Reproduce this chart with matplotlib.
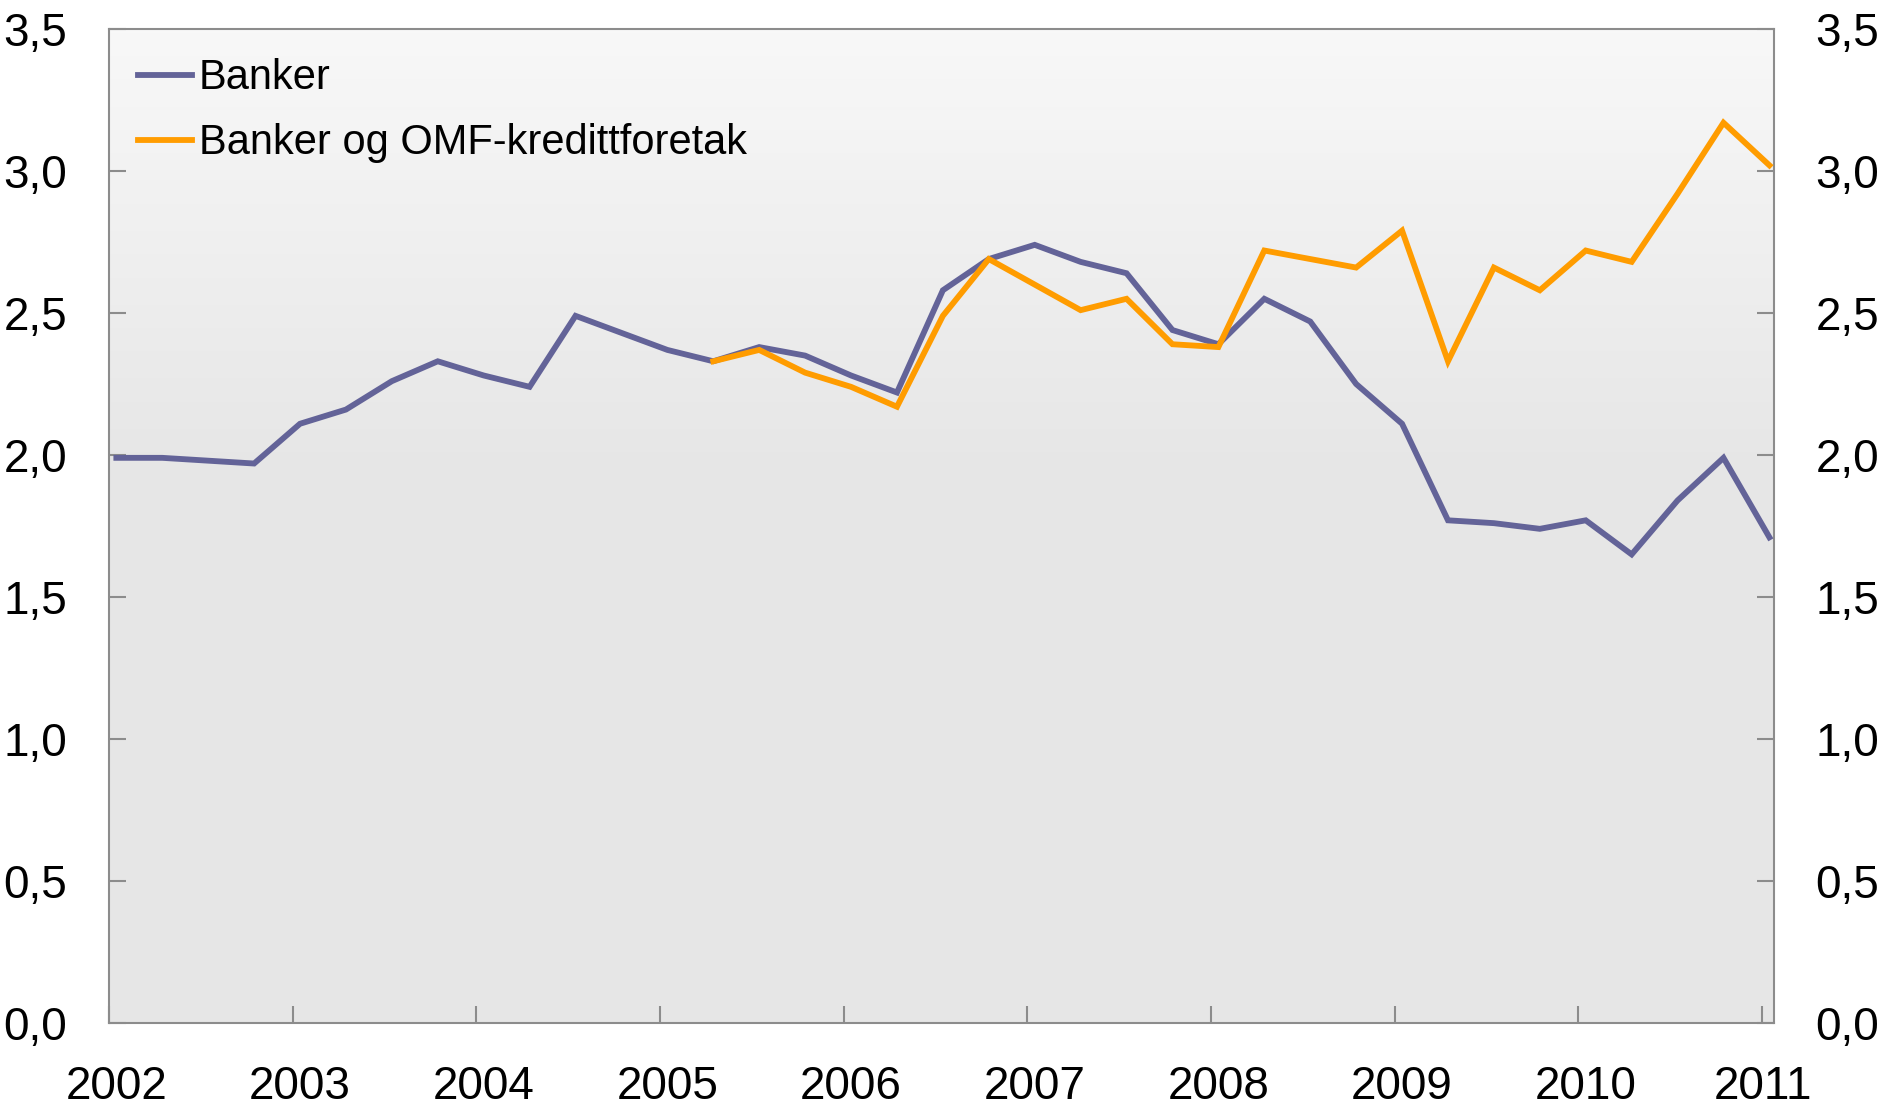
import numpy as np
import matplotlib
matplotlib.use('Agg')
import matplotlib.pyplot as plt
from matplotlib.colors import LinearSegmentedColormap

plt.rcParams['font.family'] = ['Liberation Sans', 'DejaVu Sans']

# quarterly values, 2002Q1 - 2011Q1
banker = [1.99, 1.99, 1.98, 1.97, 2.11, 2.16, 2.26, 2.33, 2.28, 2.24,
          2.49, 2.43, 2.37, 2.33, 2.38, 2.35, 2.28, 2.22, 2.58, 2.69,
          2.74, 2.68, 2.64, 2.44, 2.39, 2.55, 2.47, 2.25, 2.11, 1.77,
          1.76, 1.74, 1.77, 1.65, 1.84, 1.99, 1.71]
# Banker og OMF-kredittforetak, starts 2005Q2
omf_start = 13
omf = [2.33, 2.37, 2.29, 2.24, 2.17, 2.49, 2.69, 2.60, 2.51, 2.55,
       2.39, 2.38, 2.72, 2.69, 2.66, 2.79, 2.33, 2.66, 2.58, 2.72,
       2.68, 2.92, 3.17, 3.02]
years = ['2002', '2003', '2004', '2005', '2006', '2007', '2008', '2009', '2010', '2011']
yticks = [0.0, 0.5, 1.0, 1.5, 2.0, 2.5, 3.0, 3.5]

x_b = np.arange(len(banker))
x_o = np.arange(omf_start, omf_start + len(omf))

fig = plt.figure(figsize=(18.83, 11.09), dpi=100)
ax = fig.add_axes([109 / 1883, 1 - 1023 / 1109, (1774 - 109) / 1883, (1023 - 29) / 1109])

xmin, xmax = -0.16, 36.1
# gradient background
grad = np.linspace(0, 1, 256).reshape(-1, 1)
cmap = LinearSegmentedColormap.from_list('bg', [(0, '#e6e6e6'), (0.55, '#e6e6e6'), (1, '#f8f8f8')])
ax.imshow(grad, aspect='auto', cmap=cmap, origin='lower',
          extent=[xmin, xmax, 0, 3.5], zorder=0)

ax.plot(x_b, banker, color='#636398', lw=4.2, label='Banker', zorder=3,
        solid_joinstyle='miter')
ax.plot(x_o, omf, color='#ff9c00', lw=4.2, label='Banker og OMF-kredittforetak', zorder=4,
        solid_joinstyle='miter')

ax.set_xlim(xmin, xmax)
ax.set_ylim(0, 3.5)

for s in ax.spines.values():
    s.set_color('#8c8c8c')
    s.set_linewidth(1.5)

ax.set_yticks(yticks)
ax.set_yticklabels([('%.1f' % v).replace('.', ',') for v in yticks])
ax.tick_params(axis='y', direction='in', length=12, width=1.5, color='#8c8c8c',
               labelsize=33, pad=30, left=True, right=True, labelleft=True, labelright=True)

# tick marks at year boundaries, labels at first quarter
ax.set_xticks([4 * k + xmin for k in range(len(years))])
ax.set_xticklabels([])
ax.tick_params(axis='x', which='major', direction='in', length=12, width=1.5, color='#8c8c8c')
lab_pos = [4 * k for k in range(len(years) - 1)] + [35.85]
ax.set_xticks(lab_pos, minor=True)
ax.set_xticklabels(years, minor=True)
ax.tick_params(axis='x', which='minor', length=0, labelsize=33, pad=30)

leg = ax.legend(loc='upper left', frameon=False, fontsize=30, handlelength=1.3,
                handletextpad=0.15, labelspacing=0.6, borderaxespad=0.3,
                bbox_to_anchor=(0.0, 1.0))

fig.savefig('out.png', dpi=100)
